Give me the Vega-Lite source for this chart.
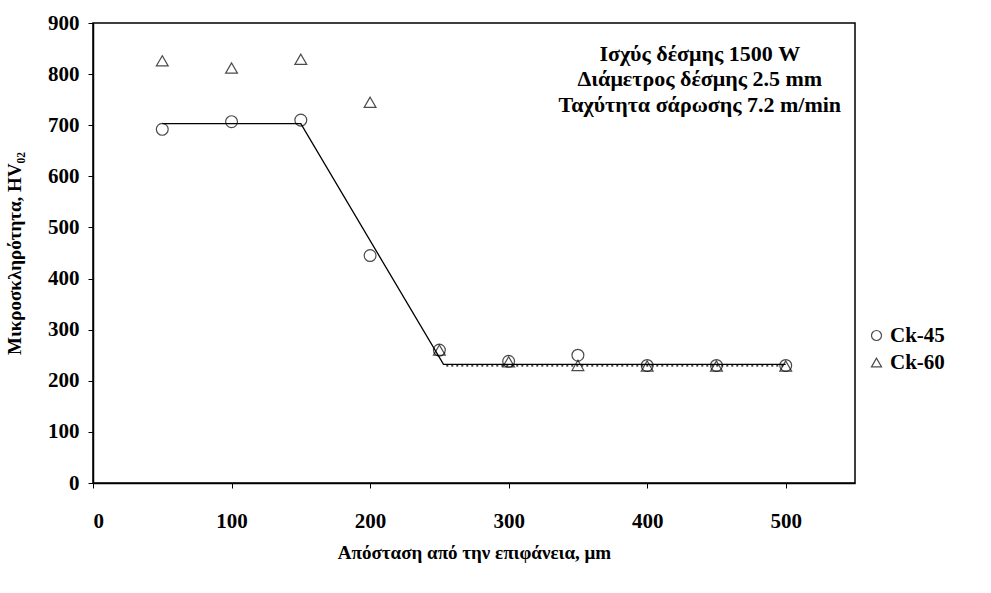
{
  "$schema": "https://vega.github.io/schema/vega-lite/v6.json",
  "width": 762,
  "height": 460,
  "autosize": {"type": "none"},
  "padding": {"left": 93, "top": 23, "right": 136, "bottom": 110},
  "background": "white",
  "config": {
    "font": "Liberation Serif",
    "view": {"stroke": "black", "strokeWidth": 1.5},
    "axis": {
      "grid": false,
      "domainColor": "black",
      "domainWidth": 1.5,
      "tickColor": "black",
      "tickSize": 5,
      "labelColor": "black",
      "titleColor": "black",
      "labelFont": "Liberation Serif",
      "labelFontWeight": "bold",
      "labelFontSize": 21,
      "titleFont": "Liberation Serif",
      "titleFontWeight": "bold",
      "titleFontSize": 19
    },
    "legend": {
      "labelFont": "Liberation Serif",
      "labelFontWeight": "bold",
      "labelFontSize": 21,
      "labelColor": "black"
    }
  },
  "datasets": {
    "hardness": [
      {"depth": 50, "hv": 692, "steel": "Ck-45"},
      {"depth": 100, "hv": 707, "steel": "Ck-45"},
      {"depth": 150, "hv": 710, "steel": "Ck-45"},
      {"depth": 200, "hv": 445, "steel": "Ck-45"},
      {"depth": 250, "hv": 260, "steel": "Ck-45"},
      {"depth": 300, "hv": 238, "steel": "Ck-45"},
      {"depth": 350, "hv": 250, "steel": "Ck-45"},
      {"depth": 400, "hv": 230, "steel": "Ck-45"},
      {"depth": 450, "hv": 230, "steel": "Ck-45"},
      {"depth": 500, "hv": 230, "steel": "Ck-45"},
      {"depth": 50, "hv": 826, "steel": "Ck-60"},
      {"depth": 100, "hv": 812, "steel": "Ck-60"},
      {"depth": 150, "hv": 829, "steel": "Ck-60"},
      {"depth": 200, "hv": 745, "steel": "Ck-60"},
      {"depth": 250, "hv": 260, "steel": "Ck-60"},
      {"depth": 300, "hv": 237, "steel": "Ck-60"},
      {"depth": 350, "hv": 230, "steel": "Ck-60"},
      {"depth": 400, "hv": 229, "steel": "Ck-60"},
      {"depth": 450, "hv": 229, "steel": "Ck-60"},
      {"depth": 500, "hv": 229, "steel": "Ck-60"}
    ],
    "fit45": [
      {"depth": 50, "hv": 703},
      {"depth": 150, "hv": 703},
      {"depth": 253, "hv": 232},
      {"depth": 500, "hv": 232}
    ],
    "fit60": [
      {"depth": 255, "hv": 229},
      {"depth": 500, "hv": 229}
    ]
  },
  "layer": [
    {
      "data": {"name": "fit45"},
      "mark": {"type": "line", "color": "black", "strokeWidth": 1.3},
      "encoding": {
        "x": {
          "field": "depth",
          "type": "quantitative",
          "scale": {"domain": [0, 550], "nice": false},
          "axis": {
            "values": [0, 100, 200, 300, 400, 500],
            "title": "Απόσταση από την επιφάνεια, μm",
            "labelPadding": 22,
            "titlePadding": 12
          }
        },
        "y": {
          "field": "hv",
          "type": "quantitative",
          "scale": {"domain": [0, 900], "nice": false},
          "axis": {
            "values": [0, 100, 200, 300, 400, 500, 600, 700, 800, 900],
            "title": "Μικροσκληρότητα, HV₀₂",
            "labelPadding": 9,
            "titlePadding": 23
          }
        }
      }
    },
    {
      "data": {"name": "fit60"},
      "mark": {"type": "line", "color": "black", "strokeWidth": 1.2, "strokeDash": [2, 3]},
      "encoding": {
        "x": {"field": "depth", "type": "quantitative"},
        "y": {"field": "hv", "type": "quantitative"}
      }
    },
    {
      "data": {"name": "hardness"},
      "mark": {"type": "point", "filled": false, "color": "black", "strokeWidth": 1.2, "size": 140},
      "encoding": {
        "x": {"field": "depth", "type": "quantitative"},
        "y": {"field": "hv", "type": "quantitative"},
        "shape": {
          "field": "steel",
          "type": "nominal",
          "scale": {"domain": ["Ck-45", "Ck-60"], "range": ["circle", "triangle-up"]},
          "legend": {
            "title": null,
            "orient": "none",
            "legendX": 773,
            "legendY": 302,
            "symbolSize": 100,
            "symbolStrokeColor": "black",
            "symbolStrokeWidth": 1.2,
            "symbolFillColor": "transparent",
            "labelOffset": 3,
            "rowPadding": 5
          }
        }
      }
    },
    {
      "data": {"values": [{}]},
      "mark": {
        "type": "text",
        "text": ["Ισχύς δέσμης 1500 W", "Διάμετρος δέσμης 2.5 mm", "Ταχύτητα σάρωσης 7.2 m/min"],
        "align": "center",
        "baseline": "middle",
        "font": "Liberation Serif",
        "fontWeight": "bold",
        "fontSize": 22,
        "lineHeight": 25.5,
        "color": "black"
      },
      "encoding": {
        "x": {"datum": 438, "type": "quantitative"},
        "y": {"datum": 840, "type": "quantitative"}
      }
    }
  ]
}
